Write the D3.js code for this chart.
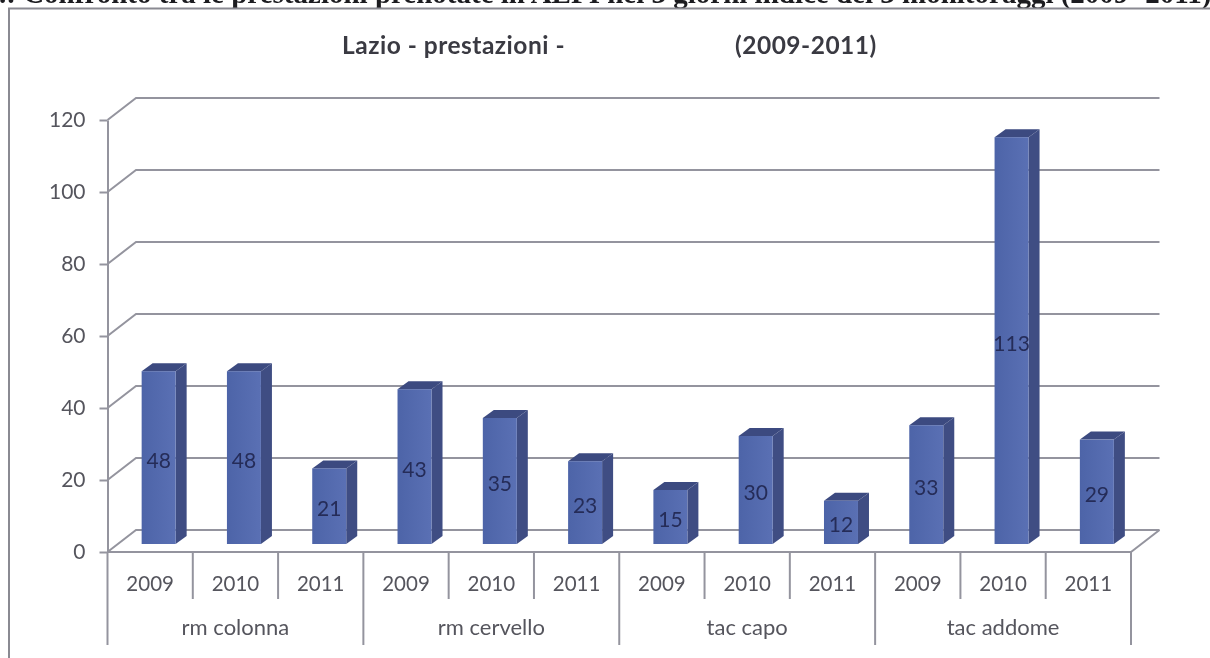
<!DOCTYPE html>
<html>
<head>
<meta charset="utf-8">
<script src="https://cdn.jsdelivr.net/npm/d3@7"></script>
<style>
    html, body { margin: 0; padding: 0; background: #fff; overflow: hidden; }
    svg { display: block; filter: blur(0.7px); }
    text { font-family: Lato, "Open Sans", sans-serif; }
</style>
</head>
<body>
<div id="chart"></div>
<script>
const groups = ['rm colonna', 'rm cervello', 'tac capo', 'tac addome'];
const years = ['2009', '2010', '2011'];
const rmColonna = [48, 48, 21];
const rmCervello = [43, 35, 23];
const tacCapo = [15, 30, 12];
const tacAddome = [33, 113, 29];
const yTicks = [0, 20, 40, 60, 80, 100, 120];
const heading = '.: Confronto tra le prestazioni prenotate in ALPI nei 3 giorni indice dei 3 monitoraggi (2009- 2011)';

const width = 1210, height = 658;
const margin = { top: 120, right: 79, bottom: 106, left: 107.5 };

const svg = d3.select('#chart').append('svg')
    .attr('width', width)
    .attr('height', height);

const data = [rmColonna, rmCervello, tacCapo, tacAddome].flatMap((vals, g) =>
    vals.map((v, i) => ({ group: groups[g], year: years[i], value: v })));

// -------- Scales --------
const x0 = d3.scaleBand().domain(groups).range([margin.left, width - margin.right]);
const x1 = d3.scaleBand().domain(years).range([0, x0.bandwidth()]);
const y = d3.scaleLinear().domain([0, 120]).range([height - margin.bottom, margin.top]);

const wallDx = 28.5, wallDy = -22;   // back wall offset
const barDx = 8.5, barDy = -8;       // bars sit a bit inside the floor
const sideDx = 11, sideDy = -8;      // bar depth
const barW = 34;
const lineColor = '#94949e';

// heading of the page the chart was cut from
svg.append('text')
    .attr('x', -1)
    .attr('y', 3)
    .attr('font-size', 29)
    .attr('font-weight', 700)
    .attr('fill', '#1c1c20')
    .style('font-family', '"Liberation Serif", serif')
    .text(heading);

// frame
svg.append('path')
    .attr('d', d3.line()([[9, height], [9, 8.5], [width, 8.5]]))
    .attr('fill', 'none')
    .attr('stroke', '#8a8a92')
    .attr('stroke-width', 2);

// title
svg.append('text')
    .attr('x', 342)
    .attr('y', 54)
    .attr('font-size', 24.5)
    .attr('font-weight', 700)
    .attr('letter-spacing', 0.5)
    .attr('fill', '#3a3a42')
    .text('Lazio - prestazioni -');

svg.append('text')
    .attr('x', 735)
    .attr('y', 54)
    .attr('font-size', 24.5)
    .attr('font-weight', 700)
    .attr('letter-spacing', 0.5)
    .attr('fill', '#3a3a42')
    .text('(2009-2011)');

// -------- Grid on the back wall + diagonals --------
const grid = svg.append('g').attr('fill', 'none').attr('stroke', lineColor).attr('stroke-width', 2);
grid.selectAll('path')
    .data(yTicks)
    .join('path')
    .attr('d', d => d3.line()([
        [margin.left, y(d)],
        [margin.left + wallDx, y(d) + wallDy],
        [width - margin.right + wallDx, y(d) + wallDy]
    ]));

// floor front edge and right side
grid.append('path')
    .attr('d', d3.line()([
        [width - margin.right, y(0)],
        [width - margin.right + wallDx, y(0) + wallDy]
    ]));

// -------- Y axis --------
const yAxis = svg.append('g')
    .attr('transform', `translate(${margin.left},0)`)
    .call(d3.axisLeft(y).tickValues(yTicks).tickSize(8).tickSizeOuter(0).tickPadding(14));
yAxis.selectAll('line, path').attr('stroke', lineColor).attr('stroke-width', 2);
yAxis.selectAll('text')
    .attr('fill', '#55555d')
    .attr('font-size', 21)
    .style('font-family', 'Lato, sans-serif');

// -------- X axis, two levels --------
const xAxis = svg.append('g').attr('stroke', lineColor).attr('stroke-width', 2);
xAxis.append('line')
    .attr('x1', margin.left)
    .attr('x2', width - margin.right)
    .attr('y1', y(0))
    .attr('y2', y(0));

groups.forEach(g => {
    years.slice(1).forEach(yr => {
        xAxis.append('line')
            .attr('x1', x0(g) + x1(yr))
            .attr('x2', x0(g) + x1(yr))
            .attr('y1', y(0))
            .attr('y2', y(0) + 47);
    });
});
[...groups.map(g => x0(g)), width - margin.right].forEach(px => {
    xAxis.append('line')
        .attr('x1', px)
        .attr('x2', px)
        .attr('y1', y(0))
        .attr('y2', y(0) + 93);
});

svg.append('g')
    .selectAll('text')
    .data(data)
    .join('text')
    .attr('x', d => x0(d.group) + x1(d.year) + x1.bandwidth() / 2)
    .attr('y', y(0) + 39)
    .attr('text-anchor', 'middle')
    .attr('font-size', 20.5)
    .attr('fill', '#55555d')
    .text(d => d.year);

svg.append('g')
    .selectAll('text')
    .data(groups)
    .join('text')
    .attr('x', d => x0(d) + x0.bandwidth() / 2)
    .attr('y', y(0) + 83)
    .attr('text-anchor', 'middle')
    .attr('font-size', 22)
    .attr('fill', '#55555d')
    .text(d => d);

// -------- Bars --------
const grad = svg.append('defs').append('linearGradient').attr('id', 'barFront');
grad.append('stop').attr('offset', '0%').attr('stop-color', '#4d64a8');
grad.append('stop').attr('offset', '100%').attr('stop-color', '#5a70b4');

const barX = d => x0(d.group) + x1(d.year) + (x1.bandwidth() - barW) / 2 + barDx;
const barTop = d => y(d.value) + barDy;
const barBase = y(0) + barDy;

const bars = svg.append('g')
    .selectAll('g')
    .data(data)
    .join('g');

// side
bars.append('path')
    .attr('fill', '#3f4d83')
    .attr('d', d => d3.line()([
        [barX(d) + barW, barTop(d)],
        [barX(d) + barW + sideDx, barTop(d) + sideDy],
        [barX(d) + barW + sideDx, barBase + sideDy],
        [barX(d) + barW, barBase]
    ]));

// top
bars.append('path')
    .attr('fill', '#3c4a80')
    .attr('d', d => d3.line()([
        [barX(d), barTop(d)],
        [barX(d) + sideDx, barTop(d) + sideDy],
        [barX(d) + barW + sideDx, barTop(d) + sideDy],
        [barX(d) + barW, barTop(d)]
    ]));

// front
bars.append('rect')
    .attr('x', barX)
    .attr('y', barTop)
    .attr('width', barW)
    .attr('height', d => barBase - barTop(d))
    .attr('fill', 'url(#barFront)');

// value labels
bars.append('text')
    .attr('x', d => barX(d) + barW / 2)
    .attr('y', d => (barTop(d) + barBase) / 2 + 10)
    .attr('text-anchor', 'middle')
    .attr('font-size', 21)
    .attr('fill', '#252c58')
    .text(d => d.value);
</script>
</body>
</html>
